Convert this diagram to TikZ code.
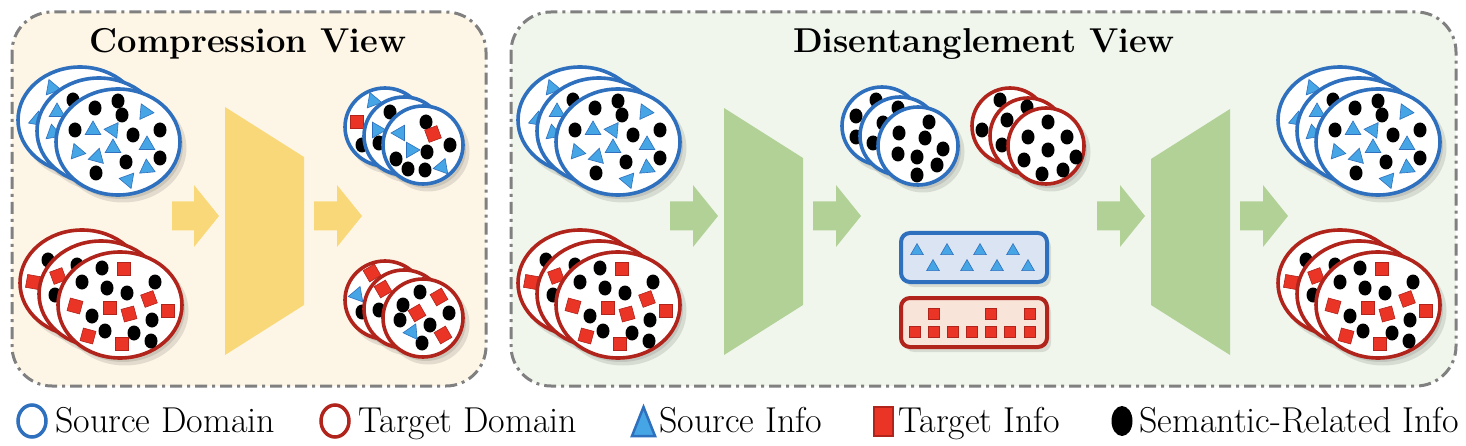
\documentclass[tikz,border=0pt]{standalone}
\usepackage{fontspec}
\usetikzlibrary{calc}
\definecolor{srcB}{RGB}{46,112,190}
\definecolor{trgR}{RGB}{176,36,28}
\definecolor{triF}{RGB}{70,165,228}
\definecolor{sqF}{RGB}{234,52,38}
\definecolor{ybg}{RGB}{253,246,230}
\definecolor{gbg}{RGB}{240,246,236}
\definecolor{yshape}{RGB}{249,216,122}
\definecolor{gshape}{RGB}{178,209,151}
\definecolor{bbar}{RGB}{219,228,243}
\definecolor{rbar}{RGB}{248,228,216}
\definecolor{panelgray}{RGB}{128,128,128}
\tikzset{
 panel/.style={draw=panelgray, line width=3pt, dash pattern=on 12pt off 5pt on 3pt off 5pt, rounded corners=40pt},
 srcell/.style={draw=srcB, line width=3.6pt, fill=white},
 trgell/.style={draw=trgR, line width=3.6pt, fill=white},
 tristy/.style={fill=triF, draw=srcB, line width=0.6pt, line join=miter},
 sqsty/.style={fill=sqF, draw=trgR, line width=0.6pt},
 dotsty/.style={fill=black},
 shad/.style={fill=black, opacity=0.10},
 legtext/.style={anchor=base west, inner sep=0pt, font=\fontsize{36}{42}\selectfont},
 titletext/.style={anchor=base, inner sep=0pt, font=\fontsize{34.5}{40}\selectfont\bfseries},
}
\newcommand\Dt[2]{\fill[dotsty] (#1,#2) ellipse (6.5 and 7.5);}
\newcommand\Tr[3]{\begin{scope}[shift={(#1,#2)},rotate=#3]\filldraw[tristy] (0,-9) -- (7.8,4.5) -- (-7.8,4.5) -- cycle;\end{scope}}
\newcommand\Sq[3]{\begin{scope}[shift={(#1,#2)},rotate=#3]\filldraw[sqsty] (-6.5,-6.5) rectangle (6.5,6.5);\end{scope}}
\newcommand\Trs[2]{\begin{scope}[shift={(#1,#2)},scale=0.82]\filldraw[tristy] (0,-9) -- (7.8,4.5) -- (-7.8,4.5) -- cycle;\end{scope}}
\newcommand\Sqs[2]{\filldraw[sqsty] (#1-5.6,#2-5.6) rectangle (#1+5.6,#2+5.6);}
% layer: style, cx, cy, rx, ry, pattern
\newcommand\Layer[6]{\begin{scope}[shift={(#2,#3)}]
 \fill[shad] (5,6) ellipse ({#4+1.5} and {#5+1.5});
 \fill[shad] (3,4) ellipse (#4 and #5);
 \draw[#1] (0,0) ellipse (#4 and #5);
 #6
 \end{scope}}
% large source patterns
\newcommand\PSrcF{\Dt{0}{-41}\Dt{-23}{-34}\Dt{4}{-27}\Dt{-43}{-12}\Dt{15}{-7}\Dt{42}{-12}\Dt{8}{20}\Dt{42}{16}\Dt{-22}{31}%
 \Tr{27}{-30}{25}\Tr{-25}{-12}{0}\Tr{-5}{-12}{-35}\Tr{29}{3}{0}\Tr{-41}{10}{20}\Tr{-21}{15}{-15}\Tr{-5}{6}{0}\Tr{29}{26}{5}\Tr{10}{38}{-40}}
\newcommand\PSrcM{\Tr{-42}{-19}{0}\Tr{-46}{2}{10}\Dt{-26}{-31}}
\newcommand\PSrcB{\Tr{-28}{-32}{20}\Tr{-43}{0}{-10}}
% large target patterns
\newcommand\PTrgF{\Dt{-18}{-37}\Dt{-38}{-23}\Dt{35}{-23}\Dt{-13}{-17}\Dt{7}{-12}\Dt{-28}{11}\Dt{32}{15}\Dt{-15}{26}\Dt{14}{28}\Dt{31}{36}%
 \Sq{4}{-36}{0}\Sq{29}{-6}{20}\Sq{-45}{1}{-15}\Sq{-10}{3}{0}\Sq{9}{9}{15}\Sq{48}{6}{0}\Sq{-32}{31}{-15}\Sq{2}{39}{0}}
\newcommand\PTrgM{\Dt{-24}{-29}\Sq{-43}{-18}{20}\Dt{-46}{1}}
\newcommand\PTrgB{\Dt{-34}{-23}\Sq{-49}{-1}{-10}}
\newcommand\SrcStack[2]{%
 \Layer{srcell}{#1-38}{#2-22}{62}{53}{\PSrcB}
 \Layer{srcell}{#1-19}{#2-11}{62}{53}{\PSrcM}
 \Layer{srcell}{#1}{#2}{62}{53}{\PSrcF}}
\newcommand\TrgStack[2]{%
 \Layer{trgell}{#1-38}{#2-22}{62}{53}{\PTrgB}
 \Layer{trgell}{#1-19}{#2-11}{62}{53}{\PTrgM}
 \Layer{trgell}{#1}{#2}{62}{53}{\PTrgF}}
\newcommand\BArrow[5]{\fill[#1] (#2,201.5) -- (#3,201.5) -- (#3,185) -- (#4,216) -- (#3,247) -- (#3,230.5) -- (#2,230.5) -- cycle;}
\begin{document}
\begin{tikzpicture}[x=1pt,y=-1pt]
\fill[white] (0,0) rectangle (1466,446);
\useasboundingbox (0,0) rectangle (1466,446);
% panels
\draw[panel, fill=ybg] (12,12) rectangle (486,386);
\draw[panel, fill=gbg] (511,12) rectangle (1456,386);
\node[titletext] (tc) at (248,53) {Compression View};
\node[titletext] (td) at (984,53) {Disentanglement View};
% ---------- compression view ----------
\SrcStack{118}{142}
\TrgStack{120}{305}
\BArrow{yshape}{172}{194}{219}{}
\fill[yshape] (225,107) -- (304,157) -- (304,305) -- (225,355) -- cycle;
\BArrow{yshape}{314}{337}{362}{}
% small compressed stacks
\Layer{srcell}{385}{127}{40}{39}{\Tr{-12}{-26}{20}\Sq{-28}{-5}{0}\Dt{-23}{18}}
\Layer{srcell}{404}{136}{40}{39}{\Dt{-14}{-24}\Tr{-27}{-6}{30}\Dt{-25}{7}}
\Layer{srcell}{423}{145}{40}{39}{\Dt{3}{-23}\Dt{27}{0}\Dt{4}{7}\Dt{-27}{14}\Dt{-15}{24}\Dt{2}{25}\Sq{10}{-11}{20}\Tr{-23}{-12}{-30}\Tr{-12}{5}{30}\Tr{19}{22}{-20}}
\Layer{trgell}{385}{300}{40}{39}{\Sq{-13}{-27}{30}\Tr{-28}{-5}{-20}\Dt{-23}{12}}
\Layer{trgell}{404}{309}{40}{39}{\Sq{-21}{-20}{30}\Dt{-25}{1}}
\Layer{trgell}{423}{318}{40}{39}{\Dt{-3}{-26}\Dt{-20}{-13}\Dt{26}{-5}\Dt{-23}{2}\Dt{7}{7}\Dt{-1}{25}\Sq{16}{-21}{30}\Sq{-6}{-5}{30}\Sq{20}{17}{30}\Tr{-11}{14}{-25}}
% ---------- disentanglement view ----------
\SrcStack{618}{142}
\TrgStack{618}{305}
\BArrow{gshape}{670}{693}{718}{}
\fill[gshape] (724,108) -- (803,158) -- (803,305) -- (724,355) -- cycle;
\BArrow{gshape}{813}{836}{861}{}
% semantic stacks
\Layer{srcell}{882}{126}{40}{39}{\Dt{-6}{-26}\Dt{-26}{-10}\Dt{-26}{11}}
\Layer{srcell}{900}{136}{40}{39}{\Dt{-2}{-28}\Dt{-17}{-13}\Dt{-27}{7}}
\Layer{srcell}{918}{146}{40}{39}{\Dt{11}{-24}\Dt{-19}{-13}\Dt{7}{-8}\Dt{25}{3}\Dt{-20}{8}\Dt{-1}{11}\Dt{19}{19}\Dt{-1}{29}}
\Layer{trgell}{1010}{126}{38}{38}{\Dt{-10}{-26}\Dt{-28}{4}}
\Layer{trgell}{1028}{136}{38}{38}{\Dt{-1}{-29}\Dt{-21}{-16}\Dt{-26}{9}}
\Layer{trgell}{1046}{146}{38}{38}{\Dt{2}{-24}\Dt{-18}{-9}\Dt{21}{-9}\Dt{2}{4}\Dt{30}{11}\Dt{-22}{14}\Dt{17}{24}\Dt{-4}{28}}
% domain bars
\fill[shad, rounded corners=9pt] (905,238) rectangle (1051,287);
\draw[srcB, line width=4pt, fill=bbar, rounded corners=9pt] (901,233) rectangle (1047,282);
\Trs{917}{251}\Trs{947}{251}\Trs{980}{251}\Trs{1013}{251}
\Trs{933}{267}\Trs{967}{267}\Trs{997}{267}\Trs{1028}{267}
\fill[shad, rounded corners=9pt] (905,303) rectangle (1051,352);
\draw[trgR, line width=4pt, fill=rbar, rounded corners=9pt] (901,298) rectangle (1047,347);
\Sqs{934}{314}\Sqs{991}{314}\Sqs{1030}{314}
\Sqs{915}{332}\Sqs{934}{332}\Sqs{953}{332}\Sqs{972}{332}\Sqs{991}{332}\Sqs{1010}{332}\Sqs{1030}{332}
\BArrow{gshape}{1097}{1120}{1145}{}
\fill[gshape] (1151,159) -- (1230,109) -- (1230,355) -- (1151,305) -- cycle;
\BArrow{gshape}{1240}{1263}{1288}{}
\SrcStack{1378}{142}
\TrgStack{1378}{305}
% ---------- legend ----------
\draw[srcB, line width=3.5pt] (32,421) ellipse (14 and 16);
\node[legtext] (l1) at (55,432) {Source Domain};
\draw[trgR, line width=3.5pt] (335,421) ellipse (14 and 16);
\node[legtext] (l2) at (358,432) {Target Domain};
\filldraw[fill=triF, draw=srcB, line width=2.5pt, line join=miter] (643.5,407) -- (655,436) -- (632,436) -- cycle;
\node[legtext] (l3) at (659,432) {Source Info};
\filldraw[fill=sqF, draw=trgR, line width=2.5pt] (874,407) rectangle (893,436);
\node[legtext] (l4) at (898,432) {Target Info};
\fill (1122,421) ellipse (10.5 and 15);
\node[legtext] (l5) at (1139,432) {Semantic-Related Info};
\end{tikzpicture}
\end{document}
